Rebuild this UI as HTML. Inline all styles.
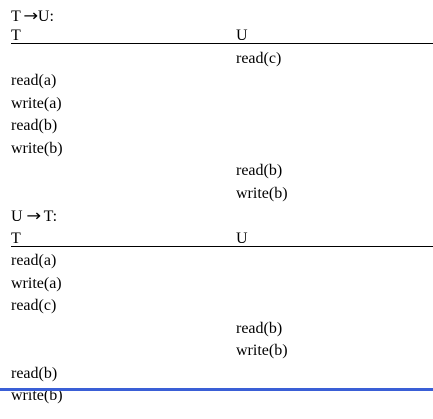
<!DOCTYPE html>
<html><head><meta charset="utf-8"><style>
html,body{margin:0;padding:0;background:#fff;width:433px;height:419px;overflow:hidden;position:relative}
.t{position:absolute;font-family:"Liberation Serif",serif;font-size:16px;line-height:20px;color:#000;white-space:nowrap}
.a{font-family:"DejaVu Sans",sans-serif;font-size:16px;display:inline-block;transform:scaleX(1.1)}
.r{position:absolute;left:11px;right:0;height:1px;background:#000}
</style></head><body>
<div class="t" style="left:11px;top:6px">T <span class="a">→</span>U:</div>
<div class="t" style="left:11px;top:26px">T</div>
<div class="t" style="left:236px;top:26px">U</div>
<div class="r" style="top:43px"></div>
<div class="t" style="left:236px;top:49px">read(c)</div>
<div class="t" style="left:11px;top:71px">read(a)</div>
<div class="t" style="left:11px;top:94px">write(a)</div>
<div class="t" style="left:11px;top:116px">read(b)</div>
<div class="t" style="left:11px;top:139px">write(b)</div>
<div class="t" style="left:236px;top:161px">read(b)</div>
<div class="t" style="left:236px;top:184px">write(b)</div>
<div class="t" style="left:11px;top:206px">U <span class="a">→</span> T:</div>
<div class="t" style="left:11px;top:229px">T</div>
<div class="t" style="left:236px;top:229px">U</div>
<div class="r" style="top:246px"></div>
<div class="t" style="left:11px;top:251px">read(a)</div>
<div class="t" style="left:11px;top:274px">write(a)</div>
<div class="t" style="left:11px;top:296px">read(c)</div>
<div class="t" style="left:236px;top:319px">read(b)</div>
<div class="t" style="left:236px;top:341px">write(b)</div>
<div class="t" style="left:11px;top:364px">read(b)</div>
<div class="t" style="left:11px;top:386px">write(b)</div>
<div style="position:absolute;left:0;right:0;top:388px;height:3px;background:#3a5fd6"></div>
</body></html>
